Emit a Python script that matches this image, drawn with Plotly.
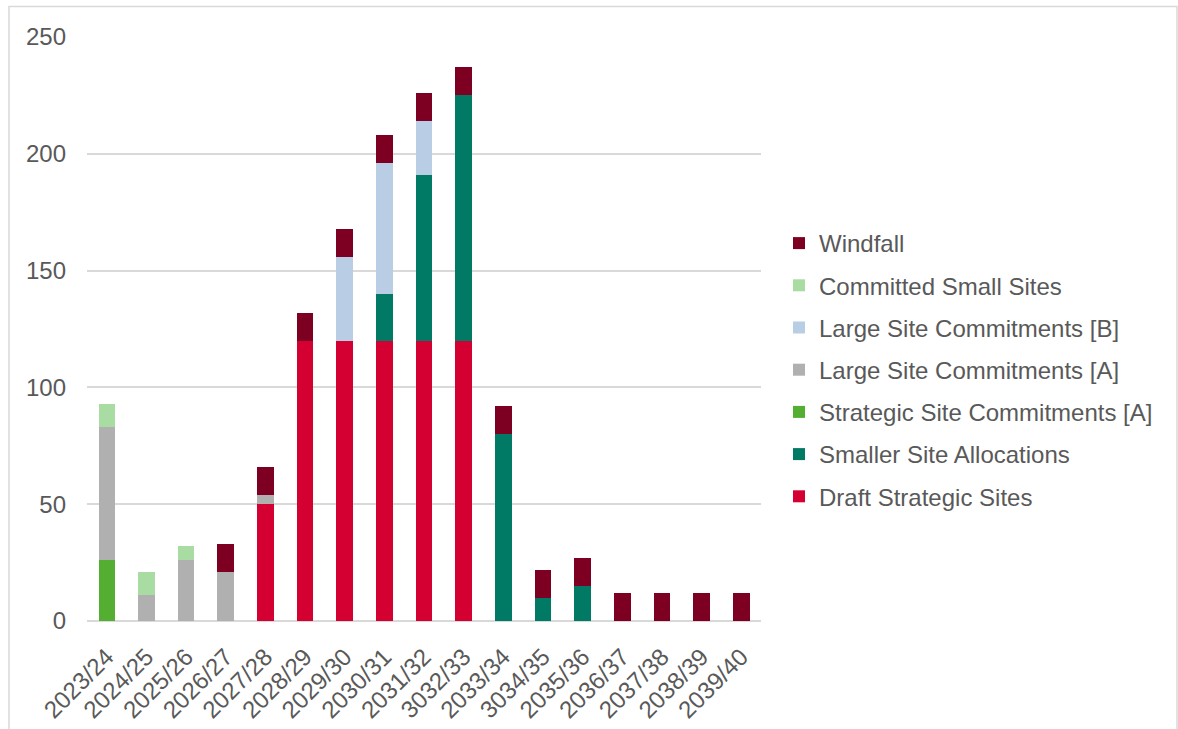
import plotly.graph_objects as go

# Financial years on the category axis
years = ["2023/24", "2024/25", "2025/26", "2026/27", "2027/28", "2028/29",
         "2029/30", "2030/31", "2031/32", "3032/33", "2033/34", "3034/35",
         "2035/36", "2036/37", "2037/38", "2038/39", "2039/40"]

# Dwelling completions by source (stacked bottom to top)
draft_strategic_sites = [0, 0, 0, 0, 50, 120, 120, 120, 120, 120, 0, 0, 0, 0, 0, 0, 0]
smaller_site_allocations = [0, 0, 0, 0, 0, 0, 0, 20, 71, 105, 80, 10, 15, 0, 0, 0, 0]
strategic_site_commitments_a = [26, 0, 0, 0, 0, 0, 0, 0, 0, 0, 0, 0, 0, 0, 0, 0, 0]
large_site_commitments_a = [57, 11, 26, 21, 4, 0, 0, 0, 0, 0, 0, 0, 0, 0, 0, 0, 0]
large_site_commitments_b = [0, 0, 0, 0, 0, 0, 36, 56, 23, 0, 0, 0, 0, 0, 0, 0, 0]
committed_small_sites = [10, 10, 6, 0, 0, 0, 0, 0, 0, 0, 0, 0, 0, 0, 0, 0, 0]
windfall = [0, 0, 0, 12, 12, 12, 12, 12, 12, 12, 12, 12, 12, 12, 12, 12, 12]

series = [
    ("Draft Strategic Sites", draft_strategic_sites, "#D50032"),
    ("Smaller Site Allocations", smaller_site_allocations, "#007A64"),
    ("Strategic Site Commitments [A]", strategic_site_commitments_a, "#53AE32"),
    ("Large Site Commitments [A]", large_site_commitments_a, "#B0B0B0"),
    ("Large Site Commitments [B]", large_site_commitments_b, "#B9CDE5"),
    ("Committed Small Sites", committed_small_sites, "#A9DCA3"),
    ("Windfall", windfall, "#7D0022"),
]

TEXT = "#595959"
GRID = "#D9D9D9"
FONT = "Liberation Sans, Arial, sans-serif"
SIZE = 24

fig = go.Figure()
n = len(series)
for i, (name, values, colour) in enumerate(series):
    # top of the stack is listed first in the legend
    fig.add_trace(go.Bar(
        x=years, y=values, name=name, legendgroup=name,
        legendrank=n - i,
        marker=dict(color=colour, line=dict(width=0)),
    ))

W, H = 1178, 729
L, R, T, B = 87, 417, 37, 108
pw, ph = W - L - R, H - T - B

def px_x(x):
    return (x - L) / pw

def px_y(y):
    return (H - B - y) / ph

fig.update_layout(
    width=W, height=H,
    margin=dict(l=L, r=R, t=T, b=B),
    barmode="stack",
    bargap=0.58,
    plot_bgcolor="white",
    paper_bgcolor="white",
    font=dict(family=FONT, size=SIZE, color=TEXT),
    showlegend=True,
    legend=dict(
        x=px_x(779), xanchor="left",
        y=px_y(221), yanchor="top",
        traceorder="grouped",
        tracegroupgap=8,
        font=dict(family=FONT, size=SIZE, color=TEXT),
        bgcolor="rgba(0,0,0,0)",
    ),
    xaxis=dict(
        type="category",
        tickangle=-45,
        showgrid=False,
        showline=False,
        ticks="",
        automargin=False,
        tickfont=dict(family=FONT, size=SIZE, color=TEXT),
        ticklabelstandoff=16,
    ),
    yaxis=dict(
        range=[0, 250],
        dtick=50,
        showgrid=True,
        gridcolor=GRID,
        gridwidth=1.5,
        zeroline=True,
        zerolinecolor=GRID,
        zerolinewidth=1.5,
        showline=False,
        ticks="",
        automargin=False,
        tickfont=dict(family=FONT, size=SIZE, color=TEXT),
        ticklabelstandoff=20,
    ),
    shapes=[
        dict(
            type="path", xref="paper", yref="paper",
            path=(f"M {px_x(9)} {px_y(735)} L {px_x(9)} {px_y(6.5)} "
                  f"L {px_x(1177)} {px_y(6.5)} L {px_x(1177)} {px_y(735)}"),
            line=dict(color=GRID, width=1.5),
            layer="below",
        )
    ],
)

fig.write_html("out.html")
